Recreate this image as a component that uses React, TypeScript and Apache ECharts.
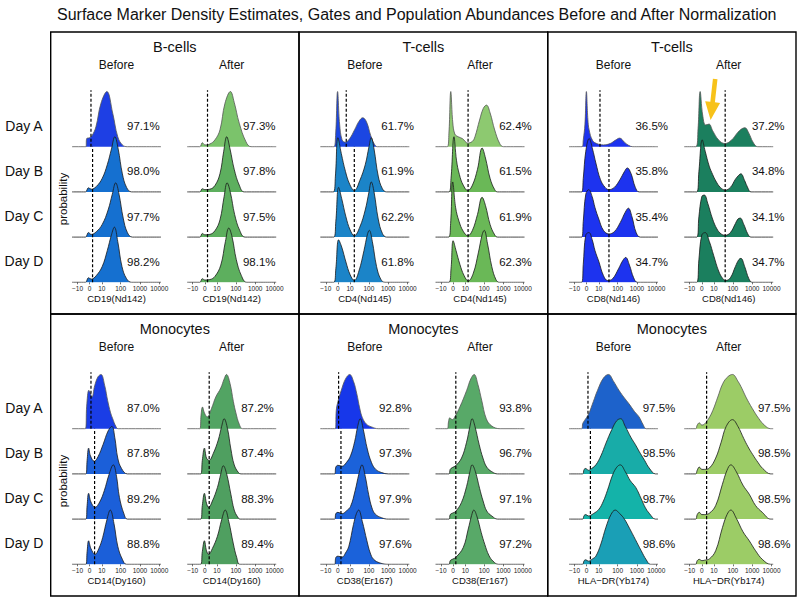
import React, { useEffect, useRef } from "react";
import * as echarts from "echarts";

// ---------------- data ----------------
const TITLE =
  "Surface Marker Density Estimates, Gates and Population Abundances Before and After Normalization";
const DAYS = ["Day A", "Day B", "Day C", "Day D"];
const STAGES = ["Before", "After"];
const CELL_TYPES = ["B-cells", "T-cells", "T-cells", "Monocytes", "Monocytes", "Monocytes"];
const MARKERS = ["CD19(Nd142)", "CD4(Nd145)", "CD8(Nd146)", "CD14(Dy160)", "CD38(Er167)", "HLA\u2212DR(Yb174)"];
const TICK_VALUES = [-10, 0, 10, 100, 1000, 10000];
const TICK_LABELS = ["\u221210", "0", "10", "100", "1000", "10000"];
const COFACTOR = 5;

// densities: [asinh(value/5), relative density]  (Day A, B, C, D)
const CD19_BEFORE = [
  [[-0.45,0],[-0.35,0.18],[0,0.2],[0.3,0.25],[0.75,0.44],[1.35,0.96],[2.05,1.22],[2.75,0.74],[3.35,0.22],[3.9,0.04],[4.5,0]],
  [[-0.5,0],[-0.15,0.09],[0.2,0.06],[0.8,0.12],[1.5,0.3],[2.1,0.6],[2.6,0.95],[3.0,1.22],[3.4,0.95],[3.9,0.4],[4.4,0.1],[5.0,0]],
  [[-0.5,0],[-0.15,0.1],[0.2,0.06],[0.8,0.12],[1.5,0.28],[2.2,0.6],[2.7,0.95],[3.1,1.2],[3.5,0.95],[4.0,0.42],[4.5,0.1],[5.1,0]],
  [[-0.5,0],[-0.15,0.1],[0.2,0.07],[0.8,0.15],[1.5,0.35],[2.1,0.7],[2.6,1.05],[2.95,1.22],[3.35,0.9],[3.85,0.35],[4.4,0.08],[5.0,0]],
];
const CD19_AFTER = [
  [[-0.6,0],[-0.3,0.09],[0.0,0.04],[0.6,0.06],[1.2,0.15],[1.8,0.37],[2.4,0.96],[3.05,1.22],[3.5,0.98],[4.1,0.52],[4.9,0.11],[5.5,0]],
  [[-0.6,0],[-0.3,0.07],[0.0,0.05],[0.6,0.06],[1.2,0.14],[1.8,0.4],[2.25,0.9],[2.6,1.22],[3.0,0.95],[3.5,0.5],[4.1,0.15],[4.7,0]],
  [[-0.6,0],[-0.3,0.08],[0.0,0.05],[0.6,0.06],[1.2,0.14],[1.8,0.38],[2.3,0.9],[2.65,1.2],[3.05,0.98],[3.55,0.5],[4.15,0.15],[4.8,0]],
  [[-0.6,0],[-0.3,0.08],[0.0,0.05],[0.6,0.06],[1.2,0.13],[1.9,0.38],[2.45,0.9],[2.85,1.2],[3.25,1.0],[3.75,0.5],[4.35,0.15],[5.0,0]],
];
const CD4_BEFORE = [
  [[-0.5,0],[-0.28,0.25],[-0.04,1.22],[0.2,0.5],[0.5,0.15],[0.9,0.1],[1.4,0.18],[2.0,0.38],[2.5,0.56],[2.95,0.64],[3.4,0.55],[3.9,0.25],[4.3,0.07],[4.7,0]],
  [[-0.55,0],[-0.3,0.35],[0.0,1.2],[0.4,0.85],[0.9,0.45],[1.4,0.17],[1.95,0.03],[2.6,0.25],[3.25,0.6],[3.7,1.0],[3.97,1.2],[4.3,0.95],[4.8,0.35],[5.3,0.07],[5.8,0]],
  [[-0.5,0],[-0.25,0.35],[0.08,1.1],[0.45,0.85],[0.95,0.45],[1.45,0.16],[1.95,0.03],[2.6,0.22],[3.25,0.6],[3.7,1.0],[3.97,1.22],[4.3,1.0],[4.8,0.4],[5.3,0.08],[5.8,0]],
  [[-0.5,0],[-0.25,0.3],[0.08,0.94],[0.45,0.78],[0.95,0.45],[1.45,0.17],[1.95,0.04],[2.5,0.25],[3.1,0.7],[3.5,1.05],[3.73,1.15],[4.1,0.9],[4.6,0.35],[5.1,0.07],[5.6,0]],
];
const CD4_AFTER = [
  [[-0.7,0],[-0.5,0.3],[-0.28,1.22],[-0.05,0.55],[0.2,0.28],[0.6,0.22],[1.1,0.18],[1.75,0.08],[2.3,0.12],[2.6,0.22],[3.15,0.59],[3.6,0.85],[3.97,0.92],[4.4,0.75],[4.95,0.37],[5.55,0.07],[6.0,0]],
  [[-0.5,0],[-0.25,0.3],[0.1,1.22],[0.4,0.7],[0.75,0.38],[1.2,0.15],[1.75,0.03],[2.3,0.15],[2.9,0.5],[3.45,0.97],[3.85,0.75],[4.4,0.3],[4.95,0.05],[5.3,0]],
  [[-0.55,0],[-0.3,0.3],[-0.05,1.22],[0.3,0.65],[0.7,0.35],[1.2,0.13],[1.75,0.03],[2.3,0.15],[2.9,0.5],[3.45,0.88],[3.85,0.7],[4.4,0.28],[4.95,0.05],[5.3,0]],
  [[-0.5,0],[-0.25,0.3],[0.0,0.92],[0.35,0.7],[0.8,0.4],[1.3,0.15],[1.8,0.03],[2.4,0.2],[3.0,0.65],[3.45,1.05],[3.7,1.15],[4.1,0.85],[4.6,0.35],[5.1,0.06],[5.5,0]],
];
const CD8_BEFORE = [
  [[-0.55,0],[-0.4,0.15],[-0.2,0.5],[-0.03,1.22],[0.15,0.6],[0.3,0.37],[0.7,0.14],[1.2,0.07],[2.0,0.04],[2.8,0.07],[3.4,0.14],[3.94,0.19],[4.5,0.1],[5.0,0.03],[5.5,0]],
  [[-0.6,0],[-0.4,0.3],[-0.1,0.9],[0.3,1.18],[0.7,0.95],[1.1,0.64],[1.65,0.27],[2.2,0.1],[2.65,0.05],[3.3,0.1],[4.0,0.28],[4.5,0.45],[4.85,0.53],[5.3,0.4],[5.8,0.1],[6.25,0]],
  [[-0.6,0],[-0.4,0.35],[-0.1,0.95],[0.25,1.05],[0.65,0.9],[1.0,0.65],[1.45,0.4],[2.0,0.15],[2.65,0.07],[3.3,0.12],[4.0,0.32],[4.6,0.55],[4.97,0.64],[5.4,0.45],[5.9,0.1],[6.4,0]],
  [[-0.6,0],[-0.4,0.4],[-0.1,1.05],[0.28,1.1],[0.65,0.95],[1.0,0.7],[1.47,0.45],[2.0,0.15],[2.5,0.04],[3.1,0.08],[3.8,0.3],[4.3,0.48],[4.65,0.55],[5.1,0.38],[5.6,0.1],[6.05,0]],
];
const CD8_AFTER = [
  [[-0.7,0],[-0.45,0.4],[-0.2,1.22],[0.1,0.7],[0.45,0.48],[0.85,0.5],[1.3,0.35],[2.0,0.15],[2.75,0.07],[3.5,0.14],[4.3,0.32],[4.8,0.4],[5.13,0.42],[5.6,0.3],[6.1,0.1],[6.65,0]],
  [[-0.6,0],[-0.35,0.45],[0.05,1.15],[0.4,0.9],[0.88,0.57],[1.3,0.38],[1.67,0.24],[2.2,0.1],[2.8,0.04],[3.4,0.1],[4.0,0.28],[4.4,0.37],[4.65,0.4],[5.1,0.25],[5.5,0.08],[5.85,0]],
  [[-0.6,0],[-0.35,0.45],[0.0,0.9],[0.3,0.93],[0.7,0.75],[1.28,0.4],[1.8,0.18],[2.3,0.07],[2.8,0.04],[3.4,0.1],[4.0,0.3],[4.3,0.4],[4.57,0.42],[5.0,0.28],[5.45,0.08],[5.85,0]],
  [[-0.6,0],[-0.35,0.5],[0.0,1.05],[0.4,1.1],[0.9,0.9],[1.4,0.6],[2.0,0.25],[2.5,0.08],[2.85,0.04],[3.4,0.1],[4.0,0.35],[4.4,0.5],[4.65,0.53],[5.1,0.35],[5.6,0.08],[6.0,0]],
];
const CD14_BEFORE = [
  [[-0.5,0],[-0.35,0.5],[-0.1,0.85],[0.05,0.8],[0.28,0.7],[0.6,0.95],[1.0,1.15],[1.35,1.2],[1.8,0.95],[2.15,0.62],[2.5,0.35],[2.75,0.22],[3.1,0.06],[3.4,0]],
  [[-0.45,0],[-0.3,0.3],[-0.12,0.57],[0.1,0.4],[0.55,0.28],[1.0,0.38],[1.6,0.65],[2.2,0.95],[2.65,1.05],[3.0,0.8],[3.35,0.35],[3.8,0.12],[4.5,0]],
  [[-0.45,0],[-0.3,0.3],[-0.12,0.57],[0.15,0.38],[0.65,0.26],[1.2,0.38],[1.75,0.63],[2.3,0.98],[2.82,1.2],[3.2,0.95],[3.55,0.48],[4.1,0.11],[4.5,0]],
  [[-0.45,0],[-0.3,0.28],[-0.12,0.52],[0.15,0.35],[0.65,0.22],[1.1,0.35],[1.55,0.59],[2.05,0.98],[2.46,1.2],[2.9,0.9],[3.35,0.4],[3.9,0.11],[4.4,0]],
];
const CD14_AFTER = [
  [[-0.6,0],[-0.45,0.3],[-0.28,0.48],[-0.05,0.35],[0.3,0.26],[0.8,0.45],[1.3,0.7],[1.9,0.9],[2.3,1.1],[2.58,1.2],[3.0,1.0],[3.4,0.6],[3.7,0.35],[4.1,0.1],[4.5,0]],
  [[-0.5,0],[-0.3,0.3],[-0.05,0.57],[0.2,0.35],[0.5,0.3],[1.0,0.45],[1.6,0.75],[2.0,1.05],[2.3,1.22],[2.7,1.0],[3.1,0.55],[3.5,0.2],[4.0,0.03],[4.3,0]],
  [[-0.5,0],[-0.3,0.3],[-0.05,0.57],[0.2,0.35],[0.45,0.26],[0.9,0.4],[1.5,0.7],[1.9,1.0],[2.2,1.18],[2.6,1.0],[3.1,0.55],[3.5,0.2],[3.9,0.05],[4.2,0]],
  [[-0.5,0],[-0.3,0.28],[-0.05,0.52],[0.2,0.3],[0.45,0.22],[0.9,0.35],[1.5,0.62],[2.0,0.98],[2.43,1.2],[2.85,0.95],[3.4,0.45],[3.8,0.15],[4.2,0]],
];
const CD38_BEFORE = [
  [[-0.3,0],[-0.2,0.4],[0.0,0.6],[0.4,0.85],[0.9,1.1],[1.4,1.2],[1.85,1.05],[2.25,0.77],[2.6,0.45],[2.9,0.25],[3.4,0.1],[4.0,0.04],[4.8,0]],
  [[-0.4,0],[-0.25,0.15],[0.0,0.19],[0.5,0.17],[1.0,0.25],[1.5,0.4],[2.0,0.72],[2.35,1.05],[2.66,1.22],[3.0,1.0],[3.5,0.55],[4.0,0.25],[4.5,0.1],[5.2,0.03],[6.0,0]],
  [[-0.4,0],[-0.25,0.12],[0.0,0.15],[0.5,0.12],[1.0,0.18],[1.5,0.28],[2.05,0.63],[2.5,1.0],[2.86,1.2],[3.25,0.95],[3.65,0.55],[4.05,0.25],[4.45,0.11],[5.2,0.03],[6.0,0]],
  [[-0.4,0],[-0.25,0.15],[0.0,0.18],[0.5,0.16],[0.9,0.25],[1.3,0.4],[1.85,0.88],[2.2,1.12],[2.46,1.2],[2.9,0.95],[3.45,0.52],[3.85,0.25],[4.25,0.11],[5.0,0.03],[6.0,0]],
];
const CD38_AFTER = [
  [[-0.7,0],[-0.55,0.15],[-0.4,0.24],[-0.1,0.2],[0.25,0.28],[0.8,0.48],[1.6,0.84],[2.1,1.1],[2.5,1.2],[2.95,0.98],[3.4,0.63],[3.95,0.22],[4.6,0.06],[5.6,0]],
  [[-0.5,0],[-0.35,0.1],[-0.1,0.14],[0.3,0.18],[1.0,0.35],[1.6,0.7],[2.0,1.05],[2.26,1.22],[2.6,1.05],[3.1,0.65],[3.55,0.35],[4.0,0.15],[4.6,0.05],[5.3,0]],
  [[-0.5,0],[-0.35,0.1],[-0.1,0.13],[0.3,0.17],[1.0,0.37],[1.6,0.72],[2.0,1.05],[2.26,1.2],[2.65,1.05],[3.15,0.68],[3.57,0.4],[4.0,0.18],[4.6,0.07],[5.3,0]],
  [[-0.5,0],[-0.35,0.08],[-0.1,0.11],[0.3,0.15],[1.2,0.37],[1.8,0.78],[2.2,1.08],[2.46,1.2],[2.85,1.05],[3.35,0.7],[3.77,0.44],[4.25,0.2],[4.75,0.07],[5.4,0]],
];
const HLA_BEFORE = [
  [[-0.6,0],[-0.45,0.12],[0.0,0.25],[0.3,0.35],[0.8,0.6],[1.3,0.85],[2.0,1.12],[2.6,1.2],[3.2,1.05],[3.85,0.85],[4.5,0.68],[5.05,0.55],[5.7,0.38],[6.25,0.26],[6.7,0.1],[7.1,0]],
  [[-0.5,0],[-0.3,0.1],[-0.1,0.12],[0.2,0.08],[0.6,0.12],[1.1,0.2],[1.7,0.4],[2.3,0.68],[3.0,0.98],[3.6,1.18],[4.05,1.22],[4.6,1.05],[5.3,0.8],[5.8,0.65],[6.25,0.5],[6.9,0.3],[7.45,0.13],[8.2,0]],
  [[-0.5,0],[-0.3,0.08],[-0.1,0.1],[0.2,0.07],[0.8,0.12],[1.47,0.22],[2.0,0.4],[2.47,0.63],[3.1,0.98],[3.6,1.15],[4.0,1.2],[4.6,1.05],[5.2,0.85],[5.85,0.7],[6.5,0.45],[7.0,0.25],[7.45,0.13],[8.2,0]],
  [[-0.5,0],[-0.3,0.08],[-0.1,0.1],[0.2,0.07],[0.7,0.12],[1.1,0.18],[1.7,0.45],[2.3,0.82],[2.9,1.1],[3.4,1.2],[3.95,1.12],[4.5,1.0],[5.1,0.8],[5.8,0.55],[6.5,0.3],[7.1,0.1],[7.6,0]],
];
const HLA_AFTER = [
  [[-0.75,0],[-0.55,0.08],[-0.3,0.13],[0.0,0.08],[0.3,0.1],[0.8,0.22],[1.3,0.4],[1.9,0.7],[2.5,1.0],[3.1,1.15],[3.65,1.2],[4.3,1.05],[4.8,0.88],[5.25,0.7],[6.0,0.45],[6.8,0.22],[7.5,0.07],[8.2,0]],
  [[-0.75,0],[-0.55,0.08],[-0.3,0.15],[0.0,0.1],[0.3,0.1],[0.9,0.13],[1.65,0.35],[2.3,0.7],[2.9,1.05],[3.65,1.2],[4.3,1.05],[5.0,0.78],[5.5,0.6],[6.05,0.43],[6.7,0.25],[7.25,0.12],[8.2,0]],
  [[-0.75,0],[-0.55,0.1],[-0.3,0.15],[0.0,0.1],[0.3,0.1],[0.9,0.13],[1.65,0.3],[2.45,0.77],[3.0,1.08],[3.45,1.2],[4.1,1.05],[4.9,0.75],[5.65,0.55],[6.4,0.3],[7.2,0.15],[8.2,0]],
  [[-0.75,0],[-0.55,0.08],[-0.3,0.11],[0.0,0.08],[0.3,0.09],[0.9,0.12],[1.65,0.3],[2.45,0.81],[3.0,1.1],[3.45,1.2],[4.1,1.02],[4.9,0.72],[5.65,0.52],[6.4,0.3],[7.2,0.11],[8.2,0]],
];

// population abundances (%)
const PCT_CD19 = [[97.1, 98.0, 97.7, 98.2], [97.3, 97.8, 97.5, 98.1]];
const PCT_CD4 = [[61.7, 61.9, 62.2, 61.8], [62.4, 61.5, 61.9, 62.3]];
const PCT_CD8 = [[36.5, 35.8, 35.4, 34.7], [37.2, 34.8, 34.1, 34.7]];
const PCT_CD14 = [[87.0, 87.8, 89.2, 88.8], [87.2, 87.4, 88.3, 89.4]];
const PCT_CD38 = [[92.8, 97.3, 97.9, 97.6], [93.8, 96.7, 97.1, 97.2]];
const PCT_HLA = [[97.5, 98.5, 98.7, 98.6], [97.5, 98.5, 98.5, 98.6]];

// gates (asinh units), per day
const GATE_CD19 = [[0.16, 0.35, 0.35, 0.35], [0.32, 0.32, 0.32, 0.32]];
const GATE_CD4 = [[0.99, 1.95, 1.95, 1.95], [1.78, 1.78, 1.78, 1.78]];
const GATE_CD8 = [[1.59, 2.66, 2.66, 2.66], [2.78, 2.78, 2.78, 2.78]];
const GATE_CD14 = [[0.16, 0.59, 0.59, 0.59], [0.52, 0.52, 0.52, 0.52]];
const GATE_CD38 = [[0.08, 0.36, 0.36, 0.36], [0.32, 0.32, 0.32, 0.32]];
const GATE_HLA = [[0.16, 0.45, 0.45, 0.45], [0.57, 0.57, 0.57, 0.57]];

const DENSITIES = [
  [CD19_BEFORE, CD19_AFTER], [CD4_BEFORE, CD4_AFTER], [CD8_BEFORE, CD8_AFTER],
  [CD14_BEFORE, CD14_AFTER], [CD38_BEFORE, CD38_AFTER], [HLA_BEFORE, HLA_AFTER],
];
const PCTS = [PCT_CD19, PCT_CD4, PCT_CD8, PCT_CD14, PCT_CD38, PCT_HLA];
const GATES = [GATE_CD19, GATE_CD4, GATE_CD8, GATE_CD14, GATE_CD38, GATE_HLA];

// ---------------- styles / layout ----------------
const FONT = "'Liberation Sans', Arial, Helvetica, sans-serif";
const COLORS = [
  [["#1e3fe4", "#1570d0", "#1570d0", "#1570d0"], ["#7bc36b", "#5daf5e", "#5daf5e", "#5daf5e"]],
  [["#1b46e2", "#1b84c8", "#1b84c8", "#1b84c8"], ["#8dc970", "#6ab857", "#6ab857", "#6ab857"]],
  [["#1d33ef", "#1d33ef", "#1d33ef", "#1d33ef"], ["#1b7f5e", "#1b7f5e", "#1b7f5e", "#1b7f5e"]],
  [["#1a3de6", "#1b5fd9", "#1b5fd9", "#1b5fd9"], ["#52a463", "#4f9f60", "#4f9f60", "#4f9f60"]],
  [["#1737ea", "#1b62da", "#1b62da", "#1b62da"], ["#58a968", "#58a968", "#58a968", "#58a968"]],
  [["#1d62cb", "#18aca8", "#14b3a9", "#1a9fb6"], ["#9ccc66", "#9ccc66", "#9ccc66", "#9ccc66"]],
];
const PCT_DX = [[71.3, 72], [77.3, 80], [82.7, 84], [71.3, 70.3], [75, 80], [90, 90]];

const PANEL_X = [50.7, 299, 547.7, 796];
const ROW_Y = [32, 314, 596];
const GRID_DX = [21.3, 136.5];
const GRID_W = 89;
const BASE_D = 250.3; // Day D baseline, relative to row top
const UNIT = 45.2; // px per ridge step
const Y_MAX = 4.4;
const X_MIN = -2.1;
const X_MAX = 8.5;
const GATE_H = [1.25, 1.0, 1.0, 1.0];

const ARROW_TAIL = [715.2, 79];
const ARROW_TIP = [710.6, 120];

function buildOption() {
  const grids: any[] = [];
  const xAxes: any[] = [];
  const yAxes: any[] = [];
  const series: any[] = [];
  const graphics: any[] = [];
  const tickPos = TICK_VALUES.map((v) => Math.asinh(v / COFACTOR));

  const text = (x: number, y: number, s: string, size: number, extra: any = {}) => ({
    type: "text",
    x,
    y,
    silent: true,
    z: 50,
    style: {
      text: s,
      x: 0,
      y: 0,
      fill: "#111",
      font: `${size}px ${FONT}`,
      align: "center",
      verticalAlign: "middle",
      ...extra,
    },
  });

  graphics.push(text(57, 14, TITLE, 16, { align: "left" }));

  for (let p = 0; p < 6; p++) {
    const col = p % 3;
    const row = Math.floor(p / 3);
    const px = PANEL_X[col];
    const pw = PANEL_X[col + 1] - px;
    const ry = ROW_Y[row];
    const rh = ROW_Y[row + 1] - ry;
    graphics.push({
      type: "rect",
      silent: true,
      z: 40,
      shape: { x: px, y: ry, width: pw, height: rh },
      style: { fill: "none", stroke: "#000", lineWidth: 1.4 },
    });
    graphics.push(text(px + pw / 2, ry + 14.7, CELL_TYPES[p], 14.5));

    for (let s = 0; s < 2; s++) {
      const g = grids.length;
      const gl = px + GRID_DX[s];
      const gBottom = ry + BASE_D;
      const gTop = gBottom - Y_MAX * UNIT;
      grids.push({ left: gl, top: gTop, width: GRID_W, height: Y_MAX * UNIT, containLabel: false, outerBoundsMode: "none" });
      xAxes.push({
        type: "value",
        gridIndex: g,
        min: X_MIN,
        max: X_MAX,
        splitLine: { show: false },
        axisLine: { show: false },
        axisTick: { show: true, length: 2, customValues: tickPos, lineStyle: { color: "#333", width: 0.7 } },
        axisLabel: {
          customValues: tickPos,
          margin: 3,
          fontSize: 6.5,
          color: "#222",
          fontFamily: FONT,
          hideOverlap: false,
          formatter: (v: number) => {
            const i = tickPos.findIndex((t) => Math.abs(t - v) < 1e-6);
            return i >= 0 ? TICK_LABELS[i] : "";
          },
        },
        name: MARKERS[p],
        nameLocation: "middle",
        nameGap: 10,
        nameTextStyle: { fontSize: 9.5, color: "#111", fontFamily: FONT },
      });
      yAxes.push({ type: "value", gridIndex: g, min: 0, max: Y_MAX, show: false });
      graphics.push(text(gl + GRID_W / 2, ry + 33, STAGES[s], 12));

      const curves = DENSITIES[p][s];
      for (let d = 0; d < 4; d++) {
        const off = 3 - d;
        const pts = curves[d].map(([x, y]) => [x, off + y]);
        series.push({
          type: "line",
          xAxisIndex: g,
          yAxisIndex: g,
          data: [[X_MIN, off], ...pts, [X_MAX, off]],
          smooth: 0.4,
          symbol: "none",
          silent: true,
          animation: false,
          z: 2,
          lineStyle: { color: d === 0 ? "#555" : "#1a1a1a", width: 0.8 },
          areaStyle: { color: COLORS[p][s][d], opacity: 1, origin: off },
        });
        const baseY = ry + BASE_D - off * UNIT;
        graphics.push(
          text(gl + PCT_DX[p][s], baseY - 20.5, PCTS[p][s][d].toFixed(1) + "%", 11.5)
        );
      }
      for (let d = 0; d < 4; d++) {
        const off = 3 - d;
        const gx = GATES[p][s][d];
        series.push({
          type: "line",
          xAxisIndex: g,
          yAxisIndex: g,
          data: [[gx, off], [gx, off + GATE_H[d]]],
          symbol: "none",
          silent: true,
          animation: false,
          z: 5,
          lineStyle: { color: "#000", width: 1.2, type: [3, 2] },
        });
      }
    }

    if (col === 0) {
      for (let d = 0; d < 4; d++) {
        const baseY = ry + BASE_D - (3 - d) * UNIT;
        graphics.push(text(24, baseY - 21, DAYS[d], 14));
      }
      graphics.push({
        ...text(62.5, ry + 167, "probability", 11.5),
        rotation: Math.PI / 2,
      });
    }
  }

  // yellow arrow annotation
  const [tx, ty] = ARROW_TAIL;
  const [hx, hy] = ARROW_TIP;
  const len = Math.hypot(hx - tx, hy - ty);
  const ux = (hx - tx) / len;
  const uy = (hy - ty) / len;
  const nx = -uy;
  const ny = ux;
  const headLen = 18;
  const bx = hx - ux * headLen;
  const by = hy - uy * headLen;
  const sw = 2.3;
  const hw = 7.5;
  graphics.push({
    type: "polygon",
    silent: true,
    z: 60,
    shape: {
      points: [
        [tx + nx * sw, ty + ny * sw],
        [bx + nx * sw, by + ny * sw],
        [bx + nx * hw, by + ny * hw],
        [hx, hy],
        [bx - nx * hw, by - ny * hw],
        [bx - nx * sw, by - ny * sw],
        [tx - nx * sw, ty - ny * sw],
      ],
    },
    style: { fill: "#f7c21a", stroke: "none" },
  });

  return {
    animation: false,
    backgroundColor: "#ffffff",
    textStyle: { fontFamily: FONT },
    grid: grids,
    xAxis: xAxes,
    yAxis: yAxes,
    series,
    graphic: graphics,
  };
}

export default function App() {
  const ref = useRef<HTMLDivElement>(null);
  useEffect(() => {
    document.body.style.margin = "0";
    const chart = echarts.init(ref.current as HTMLDivElement, undefined, { renderer: "svg" });
    chart.setOption(buildOption() as any);
    return () => chart.dispose();
  }, []);
  return <div ref={ref} style={{ width: 800, height: 601 }} />;
}
